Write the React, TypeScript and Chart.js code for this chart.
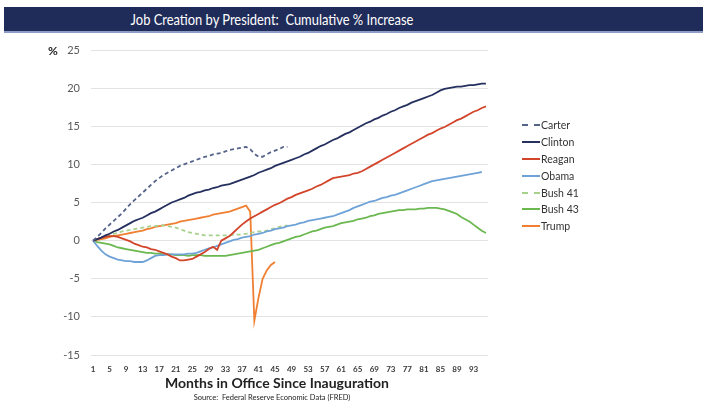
import React, { useEffect, useRef } from "react";
import { Chart, registerables } from "chart.js";
Chart.register(...registerables);

const months: string[] = Array.from({ length: 96 }, (_, i) => String(i + 1));

const carter = [0, 0.5, 1.0, 1.6, 2.1, 2.6, 3.1, 3.6, 4.2, 4.8, 5.3, 5.8, 6.3, 6.8, 7.3, 7.8, 8.2, 8.6, 8.9, 9.2, 9.5, 9.8, 10.0, 10.2, 10.4, 10.6, 10.8, 11.0, 11.1, 11.3, 11.4, 11.5, 11.7, 11.9, 12.0, 12.1, 12.2, 12.3, 12.0, 11.4, 11.0, 11.0, 11.3, 11.6, 11.8, 12.0, 12.3, 12.3];

const clinton = [0, 0.2, 0.4, 0.7, 0.9, 1.2, 1.4, 1.7, 2.0, 2.3, 2.6, 2.8, 3.0, 3.3, 3.6, 3.8, 4.1, 4.4, 4.7, 5.0, 5.2, 5.4, 5.6, 5.9, 6.1, 6.3, 6.4, 6.6, 6.7, 6.9, 7.0, 7.2, 7.3, 7.4, 7.6, 7.8, 8.0, 8.2, 8.4, 8.6, 8.9, 9.1, 9.3, 9.5, 9.8, 10.0, 10.2, 10.4, 10.6, 10.8, 11.0, 11.3, 11.5, 11.8, 12.1, 12.4, 12.6, 12.9, 13.2, 13.4, 13.7, 14.0, 14.2, 14.5, 14.8, 15.1, 15.4, 15.6, 15.9, 16.1, 16.4, 16.6, 16.9, 17.1, 17.4, 17.6, 17.8, 18.1, 18.3, 18.5, 18.7, 18.9, 19.1, 19.4, 19.7, 19.9, 20.0, 20.1, 20.2, 20.2, 20.3, 20.4, 20.4, 20.5, 20.6, 20.6];

const reagan = [0, 0.2, 0.4, 0.5, 0.6, 0.6, 0.5, 0.3, 0.1, -0.1, -0.4, -0.6, -0.8, -0.9, -1.1, -1.2, -1.4, -1.6, -1.8, -2.1, -2.3, -2.6, -2.6, -2.5, -2.4, -2.1, -1.8, -1.5, -1.1, -0.8, -1.2, 0.0, 0.3, 0.6, 1.1, 1.6, 2.1, 2.5, 2.9, 3.2, 3.5, 3.8, 4.1, 4.4, 4.7, 4.9, 5.2, 5.5, 5.7, 6.0, 6.2, 6.4, 6.6, 6.8, 7.1, 7.3, 7.6, 7.9, 8.2, 8.3, 8.4, 8.5, 8.6, 8.8, 8.9, 9.1, 9.4, 9.7, 10.0, 10.3, 10.6, 10.9, 11.2, 11.5, 11.8, 12.1, 12.4, 12.7, 13.0, 13.3, 13.6, 13.9, 14.1, 14.4, 14.7, 14.9, 15.2, 15.5, 15.8, 16.0, 16.3, 16.6, 16.9, 17.1, 17.4, 17.6];

const obama = [0, -0.7, -1.3, -1.8, -2.1, -2.3, -2.5, -2.6, -2.7, -2.7, -2.8, -2.8, -2.8, -2.6, -2.3, -2.0, -1.9, -1.9, -1.8, -1.8, -1.8, -1.8, -1.8, -1.7, -1.7, -1.6, -1.4, -1.2, -1.0, -0.9, -0.7, -0.5, -0.3, -0.1, 0.1, 0.2, 0.4, 0.5, 0.6, 0.8, 0.9, 1.0, 1.2, 1.3, 1.5, 1.6, 1.7, 1.9, 2.0, 2.1, 2.3, 2.4, 2.6, 2.7, 2.8, 2.9, 3.0, 3.1, 3.2, 3.4, 3.6, 3.8, 4.0, 4.3, 4.5, 4.7, 4.9, 5.1, 5.2, 5.4, 5.6, 5.7, 5.9, 6.0, 6.2, 6.4, 6.6, 6.8, 7.0, 7.2, 7.4, 7.6, 7.8, 7.9, 8.0, 8.1, 8.2, 8.3, 8.4, 8.5, 8.6, 8.7, 8.8, 8.9, 9.0];

const bush41 = [0, 0.2, 0.4, 0.5, 0.7, 0.9, 1.0, 1.2, 1.3, 1.4, 1.5, 1.6, 1.7, 1.8, 1.9, 1.9, 2.0, 2.0, 1.9, 1.8, 1.7, 1.5, 1.3, 1.1, 1.0, 0.9, 0.8, 0.7, 0.7, 0.7, 0.7, 0.7, 0.7, 0.7, 0.8, 0.8, 0.8, 0.9, 1.0, 1.1, 1.2, 1.2, 1.3, 1.5, 1.6, 1.8, 1.9, 2.0];

const bush43 = [0, -0.2, -0.3, -0.4, -0.5, -0.7, -0.9, -1.0, -1.1, -1.2, -1.3, -1.4, -1.5, -1.6, -1.6, -1.7, -1.7, -1.8, -1.8, -1.8, -1.9, -1.9, -1.9, -2.0, -1.9, -1.9, -1.9, -2.0, -2.0, -2.0, -2.0, -2.0, -2.0, -1.9, -1.8, -1.7, -1.6, -1.5, -1.4, -1.3, -1.2, -1.0, -0.8, -0.6, -0.4, -0.3, -0.1, 0.1, 0.3, 0.5, 0.6, 0.8, 1.0, 1.2, 1.3, 1.5, 1.7, 1.8, 1.9, 2.1, 2.3, 2.4, 2.5, 2.6, 2.8, 2.9, 3.0, 3.2, 3.3, 3.5, 3.6, 3.7, 3.8, 3.9, 4.0, 4.0, 4.1, 4.1, 4.1, 4.2, 4.2, 4.3, 4.3, 4.3, 4.2, 4.1, 3.9, 3.7, 3.5, 3.1, 2.8, 2.5, 2.1, 1.7, 1.3, 1.0];

const trump = [0, 0.1, 0.2, 0.3, 0.5, 0.6, 0.7, 0.8, 0.9, 1.0, 1.1, 1.2, 1.3, 1.5, 1.6, 1.8, 1.9, 2.0, 2.1, 2.2, 2.3, 2.5, 2.6, 2.7, 2.8, 2.9, 3.0, 3.1, 3.2, 3.4, 3.5, 3.6, 3.7, 3.8, 4.0, 4.2, 4.4, 4.6, 3.8, -10.5, -7.5, -5.0, -3.9, -3.2, -2.8];

const seriesNames = ["Carter", "Clinton", "Reagan", "Obama", "Bush 41", "Bush 43", "Trump"];
const seriesData = [carter, clinton, reagan, obama, bush41, bush43, trump];
const seriesColors = ["#56648a", "#25305e", "#d2452a", "#6fa3d8", "#a9d18e", "#6ab84f", "#f07f32"];
const seriesDashed = [true, false, false, false, true, false, false];

const yMin = -15;
const yMax = 25;
const yStep = 5;
const labelEvery = 4;

const FONT = "Lato, 'Open Sans', sans-serif";

export default function App() {
  const ref = useRef<HTMLCanvasElement | null>(null);

  useEffect(() => {
    if (!ref.current) return;
    const chart = new Chart(ref.current, {
      type: "line",
      data: {
        labels: months,
        datasets: seriesNames.map((name, i) => ({
          label: name,
          data: seriesData[i],
          borderColor: seriesColors[i],
          backgroundColor: seriesColors[i],
          borderWidth: 1.8,
          borderDash: seriesDashed[i] ? [4, 3] : [],
          pointRadius: 0,
          tension: 0,
          fill: false,
        })),
      },
      options: {
        responsive: false,
        animation: false,
        layout: { padding: { left: 0, top: 50, right: 215, bottom: 0 } },
        plugins: { legend: { display: false }, tooltip: { enabled: false }, title: { display: false } },
        scales: {
          x: {
            offset: true,
            grid: { display: false, drawTicks: false },
            border: { display: false },
            ticks: {
              autoSkip: false,
              maxRotation: 0,
              minRotation: 0,
              padding: 10,
              color: "#3a3a3a",
              font: { family: FONT, size: 8, weight: "bold" },
              callback: (_v: any, idx: number) => (idx % labelEvery === 0 ? months[idx] : ""),
            },
            afterFit: (s: any) => {
              s.height = 56;
            },
          },
          y: {
            min: yMin,
            max: yMax,
            grid: { color: "#e3e3e3", drawTicks: false, lineWidth: 1 },
            border: { display: false },
            ticks: {
              stepSize: yStep,
              padding: 11,
              color: "#595959",
              font: { family: FONT, size: 11 },
            },
            afterFit: (s: any) => {
              s.width = 91;
            },
          },
        },
      },
    });
    return () => chart.destroy();
  }, []);

  return (
    <div style={{ position: "absolute", left: 0, top: 0, width: 703, height: 411, background: "#fff", overflow: "hidden", fontFamily: FONT }}>
      <div style={{ position: "absolute", left: 4, top: 7, width: 699, height: 24, background: "#1f2b59" }} />
      <div style={{ position: "absolute", left: 4, top: 31, width: 699, height: 2, background: "#8f9cc4" }} />
      <div style={{ position: "absolute", left: 272, top: 19, transform: "translate(-50%, -50%) scaleX(0.86)", color: "#fff", fontSize: 15, whiteSpace: "nowrap" }}>
        Job Creation by President:&nbsp; Cumulative % Increase
      </div>
      <canvas ref={ref} width={703} height={411} style={{ position: "absolute", left: 0, top: 0 }} />
      <div style={{ position: "absolute", left: 53, top: 50, transform: "translate(-50%, -50%)", fontWeight: "bold", fontSize: 12, color: "#222" }}>%</div>
      <div style={{ position: "absolute", left: 522, top: 117 }}>
        {seriesNames.map((n, i) => (
          <div key={n} style={{ display: "flex", alignItems: "center", height: 16.8 }}>
            <div style={{ width: 18, height: 0, borderTop: `2px ${seriesDashed[i] ? "dashed" : "solid"} ${seriesColors[i]}` }} />
            <span style={{ fontSize: 10.5, color: "#333", marginLeft: 1, whiteSpace: "nowrap" }}>{n}</span>
          </div>
        ))}
      </div>
      <div style={{ position: "absolute", left: 277, top: 382, transform: "translate(-50%, -50%)", fontWeight: "bold", fontSize: 14, color: "#222", whiteSpace: "nowrap" }}>
        Months in Office Since Inauguration
      </div>
      <div style={{ position: "absolute", left: 272, top: 397, transform: "translate(-50%, -50%)", fontSize: 7.5, color: "#222", whiteSpace: "nowrap" }}>
        Source:&nbsp; Federal Reserve Economic Data (FRED)
      </div>
    </div>
  );
}
